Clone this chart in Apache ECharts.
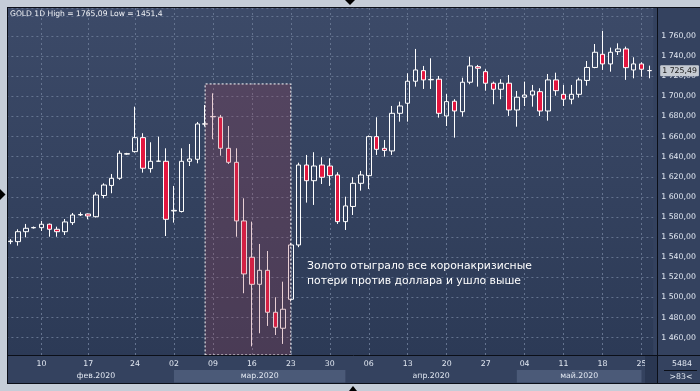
<!DOCTYPE html>
<html><head><meta charset="utf-8">
<script src="https://cdn.jsdelivr.net/npm/echarts@6/dist/echarts.min.js"></script>
<style>html,body{margin:0;padding:0;background:#c5cdd8}#chart{width:700px;height:391px}</style>
</head><body><div id="chart"></div>
<script>
const dates = ['2020-02-05','2020-02-06','2020-02-07','2020-02-09','2020-02-10','2020-02-11','2020-02-12','2020-02-13','2020-02-14','2020-02-16',
'2020-02-17','2020-02-18','2020-02-19','2020-02-20','2020-02-21','2020-02-23','2020-02-24','2020-02-25','2020-02-26','2020-02-27','2020-02-28',
'2020-03-02','2020-03-03','2020-03-04','2020-03-05','2020-03-06','2020-03-09','2020-03-10','2020-03-11','2020-03-12','2020-03-13',
'2020-03-16','2020-03-17','2020-03-18','2020-03-19','2020-03-20','2020-03-23','2020-03-24','2020-03-25','2020-03-26','2020-03-27',
'2020-03-30','2020-03-31','2020-04-01','2020-04-02','2020-04-03','2020-04-06','2020-04-07','2020-04-08','2020-04-09','2020-04-10',
'2020-04-13','2020-04-14','2020-04-15','2020-04-16','2020-04-17','2020-04-20','2020-04-21','2020-04-22','2020-04-23','2020-04-24',
'2020-04-27','2020-04-28','2020-04-29','2020-04-30','2020-05-01','2020-05-04','2020-05-05','2020-05-06','2020-05-07','2020-05-08',
'2020-05-11','2020-05-12','2020-05-13','2020-05-14','2020-05-15','2020-05-18','2020-05-19','2020-05-20','2020-05-21','2020-05-22',
'2020-05-25','2020-05-26'];
const opens = [1555.5,1555.5,1565.4,1569.2,1569.4,1572.8,1567.8,1565.4,1574.4,1582.1,
1583.0,1580.3,1601.4,1611.4,1618.5,1642.5,1645.0,1658.9,1628.1,1635.4,1635.4,
1586.0,1585.5,1635.4,1637.4,1672.3,1679.6,1679.2,1648.3,1634.4,1576.1,
1540.0,1513.1,1527.0,1485.3,1469.4,1498.2,1552.2,1631.7,1616.1,1631.7,
1630.7,1621.8,1575.4,1590.5,1613.5,1621.1,1659.9,1648.3,1645.7,1683.1,
1693.1,1715.0,1725.5,1716.4,1717.0,1680.5,1695.1,1684.7,1714.0,1729.5,
1724.5,1713.0,1707.0,1713.0,1686.4,1699.1,1701.3,1704.6,1685.4,1716.3,
1702.0,1697.1,1702.0,1715.8,1728.7,1741.8,1732.2,1744.4,1747.1,1726.2,
1732.2,1725.6];
const closes = [1556.0,1565.4,1568.8,1569.6,1572.8,1567.8,1565.4,1575.1,1582.0,1582.5,
1581.0,1601.9,1611.8,1618.5,1643.4,1643.0,1658.9,1628.5,1635.4,1635.6,1577.7,
1586.6,1635.4,1637.7,1672.5,1672.7,1680.0,1648.3,1634.4,1576.1,1523.4,
1513.1,1527.0,1485.3,1470.4,1488.3,1552.2,1631.7,1616.1,1630.7,1619.5,
1621.1,1575.4,1591.0,1613.5,1621.8,1659.9,1647.3,1646.2,1683.1,1690.4,
1715.0,1726.2,1716.3,1716.8,1683.1,1694.7,1685.4,1714.0,1730.2,1727.9,
1713.0,1707.0,1713.0,1686.4,1699.1,1701.3,1705.3,1685.4,1716.3,1705.6,
1697.1,1702.0,1716.3,1728.7,1743.8,1732.2,1743.8,1747.1,1728.5,1732.2,
1726.9,1725.49];
const lows = [1553.0,1551.5,1559.8,1568.5,1566.1,1560.4,1560.4,1562.1,1572.1,1581.0,
1577.7,1579.5,1598.6,1603.6,1617.0,1641.8,1644.0,1624.1,1624.1,1635.0,1561.1,
1574.4,1584.5,1630.7,1633.4,1670.0,1657.3,1641.0,1632.7,1560.4,1504.2,
1451.4,1464.4,1471.7,1462.7,1453.8,1496.0,1550.0,1594.3,1592.0,1612.8,
1610.9,1573.1,1567.1,1582.0,1606.2,1607.9,1641.7,1640.0,1641.7,1674.8,
1674.8,1709.6,1707.3,1707.3,1678.8,1670.5,1658.9,1679.8,1712.0,1709.6,
1705.6,1692.1,1697.1,1680.5,1669.8,1690.4,1689.7,1680.5,1675.8,1700.6,
1690.4,1692.1,1698.7,1710.6,1727.9,1726.2,1724.5,1741.1,1716.3,1717.9,
1719.5,1717.9];
const highs = [1558.0,1567.8,1573.1,1570.5,1576.1,1573.5,1570.4,1578.0,1584.0,1584.7,
1583.5,1604.6,1613.5,1622.8,1646.0,1643.8,1689.7,1663.3,1654.3,1659.9,1648.3,
1610.9,1648.3,1652.6,1674.5,1691.4,1703.0,1681.5,1670.5,1648.3,1598.6,
1575.4,1553.2,1546.2,1500.2,1515.7,1554.0,1634.0,1641.7,1644.4,1639.4,
1638.4,1624.5,1600.2,1619.5,1625.8,1661.0,1679.2,1656.6,1690.4,1694.7,
1722.9,1747.1,1730.2,1737.8,1720.2,1702.3,1697.1,1718.5,1739.4,1731.2,
1726.9,1714.6,1717.0,1721.2,1705.3,1714.6,1711.3,1708.0,1722.2,1723.5,
1711.3,1711.3,1718.5,1735.1,1752.0,1765.09,1748.4,1752.7,1749.4,1738.8,
1733.9,1730.5];
const monthNames = ['фев.2020','мар.2020','апр.2020','май.2020'];
const monthFrom = ['2020-02-06','2020-03-02','2020-04-01','2020-05-01'];
const monthTo = ['2020-03-02','2020-04-01','2020-05-01','2020-05-25'];
const zoneStart = '2020-03-06', zoneEnd = '2020-03-23', zoneTop = 1712.3;
const lastPrice = 1725.49;
const titleText = 'GOLD 1D High = 1765,09 Low = 1451,4';
const noteText = 'Золото отыграло все коронакризисные\nпотери против доллара и ушло выше';

const FONT = 'DejaVu Sans';
const FS = 7.8;
const chart = echarts.init(document.getElementById('chart'), null, {renderer: 'canvas'});
const candleData = dates.map((d, i) => [opens[i], closes[i], lows[i], highs[i]]);
const isMonday = d => new Date(d + 'T00:00:00Z').getUTCDay() === 1;
const fmtNum = v => {
  const s = v.toFixed(2).split('.');
  return s[0].replace(/\B(?=(\d{3})+(?!\d))/g, ' ') + ',' + s[1];
};
const labelColor = '#e3e9f3';
const monthAreas = monthNames.map((m, i) => [
  {xAxis: monthFrom[i], name: m, itemStyle: {color: i % 2 ? '#4b5a78' : 'rgba(0,0,0,0)'}},
  {xAxis: monthTo[i]}
]);

const option = {
  animation: false,
  backgroundColor: '#34425f',
  title: {text: titleText, left: 10, top: 10, padding: 0,
    textStyle: {color: '#f2f4f8', fontSize: 7.6, fontWeight: 'normal', fontFamily: FONT}},
  grid: [
    {left: 6.4, top: 8, width: 646.8, height: 347, show: true, borderWidth: 0,
     backgroundColor: new echarts.graphic.LinearGradient(0, 0, 0, 1, [
       {offset: 0, color: '#3c4a68'}, {offset: 1, color: '#2c3a56'}])},
    {left: 6.4, top: 370, width: 646.8, height: 12.5, show: false}
  ],
  xAxis: [
    {type: 'category', data: dates, gridIndex: 0, boundaryGap: true,
     axisLine: {show: false}, axisTick: {show: false},
     axisLabel: {interval: (i, v) => isMonday(v), formatter: v => v.slice(8, 10),
       color: labelColor, fontSize: FS, fontFamily: FONT, margin: 5},
     splitLine: {show: true, interval: (i, v) => isMonday(v), alignWithLabel: true,
       lineStyle: {color: '#64738f', width: 1, type: [2, 3]}}},
    {type: 'category', data: dates, gridIndex: 1, show: false, boundaryGap: true}
  ],
  yAxis: [
    {type: 'value', gridIndex: 0, position: 'right', offset: 4, min: 1442.8, max: 1787.8,
     minInterval: 20, maxInterval: 20, splitNumber: 17,
     axisLine: {show: false}, axisTick: {show: false},
     axisLabel: {showMinLabel: false, showMaxLabel: false, margin: 4,
       formatter: v => (Math.abs(v % 20) < 1e-6 && v <= 1760) ? fmtNum(v) : '',
       color: labelColor, fontSize: FS, fontFamily: FONT},
     splitLine: {show: true, lineStyle: {color: '#64738f', width: 1, type: [2, 3]}}},
    {type: 'value', gridIndex: 1, min: 0, max: 1, show: false}
  ],
  series: [
    {type: 'candlestick', name: 'GOLD', xAxisIndex: 0, yAxisIndex: 0, data: candleData,
     barWidth: 5, clip: false,
     itemStyle: {color: 'rgba(0,0,0,0)', color0: '#e3163f', borderColor: '#ffffff',
       borderColor0: '#ffffff', borderWidth: 1},
     markLine: {silent: true, z: 20, symbol: ['none', 'none'],
       lineStyle: {color: 'rgba(0,0,0,0)', width: 1, type: 'solid'},
       data: [{yAxis: lastPrice}],
       label: {show: true, position: 'end', distance: 7, formatter: () => fmtNum(lastPrice),
         backgroundColor: '#c6cbd2', color: '#1a1a1a', padding: [2, 2, 1, 2], borderRadius: 1,
         opacity: 1, fontSize: FS, fontFamily: FONT}}},
    {type: 'line', name: 'zone', xAxisIndex: 0, yAxisIndex: 0, data: dates.map(() => null),
     symbol: 'none', silent: true,
     markArea: {silent: true, z: 10,
       itemStyle: {color: 'rgba(165,65,85,0.25)', borderColor: '#ffffff', borderWidth: 1, borderType: [2, 2]},
       data: [[{xAxis: zoneStart}, {xAxis: zoneEnd, yAxis: zoneTop}]]}},
    {type: 'line', name: 'months', xAxisIndex: 1, yAxisIndex: 1, data: dates.map(() => null),
     symbol: 'none', silent: true,
     markArea: {silent: true,
       label: {show: true, position: 'inside', color: labelColor, fontSize: FS, fontFamily: FONT},
       data: monthAreas}}
  ],
  graphic: [
    {type: 'text', z: 50, style: {text: noteText, x: 307, y: 259, fill: '#ffffff',
      font: '10.8px "DejaVu Sans"', lineHeight: 14.7}},
    {type: 'rect', z: 90, shape: {x: 645, y: 356, width: 12, height: 27}, style: {fill: '#2a3752'}},
    {type: 'rect', z: 100, shape: {x: 0, y: 0, width: 7, height: 391}, style: {fill: '#c5cdd8'}},
    {type: 'rect', z: 100, shape: {x: 0, y: 0, width: 700, height: 7}, style: {fill: '#c5cdd8'}},
    {type: 'rect', z: 100, shape: {x: 0, y: 384, width: 700, height: 7}, style: {fill: '#c5cdd8'}},
    {type: 'line', z: 101, shape: {x1: 7, y1: 7.5, x2: 700, y2: 7.5}, style: {stroke: '#0b0f18', lineWidth: 1}},
    {type: 'line', z: 101, shape: {x1: 7.5, y1: 7, x2: 7.5, y2: 384}, style: {stroke: '#0b0f18', lineWidth: 1}},
    {type: 'line', z: 101, shape: {x1: 7, y1: 355.5, x2: 700, y2: 355.5}, style: {stroke: '#0b0f18', lineWidth: 1}},
    {type: 'line', z: 101, shape: {x1: 7, y1: 383.5, x2: 700, y2: 383.5}, style: {stroke: '#0b0f18', lineWidth: 1}},
    {type: 'line', z: 101, shape: {x1: 657.5, y1: 7, x2: 657.5, y2: 384}, style: {stroke: '#0b0f18', lineWidth: 1}},
    {type: 'polygon', z: 102, shape: {points: [[345, 0], [355, 0], [350, 5]]}, style: {fill: '#000'}},
    {type: 'polygon', z: 102, shape: {points: [[0, 189], [0, 200], [5.5, 194.5]]}, style: {fill: '#000'}},
    {type: 'polygon', z: 102, shape: {points: [[349, 391], [357, 391], [353, 386]]}, style: {fill: '#000'}},
    {type: 'text', z: 102, style: {text: '5484', x: 682, y: 364, align: 'center', verticalAlign: 'middle',
      fill: labelColor, font: FS + 'px "DejaVu Sans"'}},
    {type: 'line', z: 102, shape: {x1: 664, y1: 370.5, x2: 697, y2: 370.5}, style: {stroke: '#0b0f18', lineWidth: 1}},
    {type: 'text', z: 102, style: {text: '>83<', x: 681, y: 376.5, align: 'center', verticalAlign: 'middle',
      fill: labelColor, font: FS + 'px "DejaVu Sans"'}}
  ]
};
chart.setOption(option);
</script></body></html>
